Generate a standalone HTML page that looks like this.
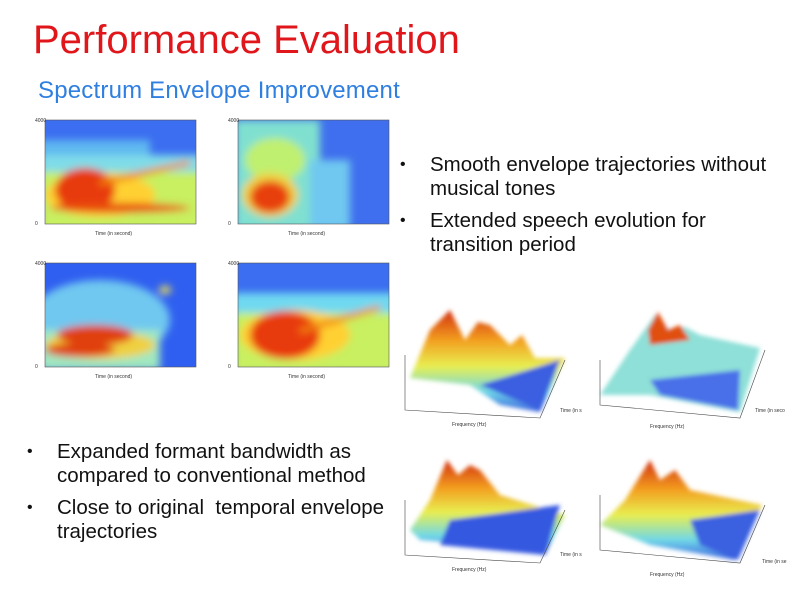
<!DOCTYPE html>
<html><head><meta charset="utf-8"><style>
body{margin:0;width:800px;height:599px;background:#fff;position:relative;overflow:hidden;font-family:"Liberation Sans",sans-serif}
.t{position:absolute;left:33px;top:18px;font-size:40px;color:#e0161b}
.s{position:absolute;left:38px;top:77px;font-size:24px;color:#2f7fe0;letter-spacing:.2px}
.b{position:absolute;font-size:20.5px;color:#111;line-height:24px;white-space:nowrap}
.b div{position:relative;padding-left:30px;margin-bottom:8px}
.b div:before{content:"•";position:absolute;left:0;font-size:16px}
svg{position:absolute;left:0;top:0}
.ax{font-size:5px;fill:#333}
</style></head><body>
<div class="t">Performance Evaluation</div>
<div class="s">Spectrum Envelope Improvement</div>
<div class="b" style="left:400px;top:153px"><div>Smooth envelope trajectories without<br>musical tones</div><div>Extended speech evolution for<br>transition period</div></div>
<div class="b" style="left:27px;top:440px"><div>Expanded formant bandwidth as<br>compared to conventional method</div><div>Close to original&nbsp; temporal envelope<br>trajectories</div></div>
<svg width="800" height="599">
<defs>
<filter id="bl" x="-20%" y="-20%" width="140%" height="140%"><feGaussianBlur stdDeviation="4"/></filter>
<filter id="bl2"><feGaussianBlur stdDeviation="2"/></filter>
<clipPath id="c1"><rect x="45" y="120" width="151" height="104"/></clipPath>
<clipPath id="c2"><rect x="238" y="120" width="151" height="104"/></clipPath>
<clipPath id="c3"><rect x="45" y="263" width="151" height="104"/></clipPath>
<clipPath id="c4"><rect x="238" y="263" width="151" height="104"/></clipPath>
<linearGradient id="g3" x1="0" y1="0" x2="0" y2="1"><stop offset="0" stop-color="#d23010"/><stop offset=".3" stop-color="#f3a020"/><stop offset=".55" stop-color="#e8ee50"/><stop offset=".8" stop-color="#70d8e8"/><stop offset="1" stop-color="#3a60e0"/></linearGradient>
</defs>
<g clip-path="url(#c1)">
<rect x="45" y="120" width="151" height="104" fill="#3b6ef0"/>
<g filter="url(#bl)">
<rect x="40" y="140" width="110" height="30" fill="#5fb8f0"/>
<rect x="40" y="155" width="165" height="75" fill="#7fdce8"/>
<rect x="40" y="172" width="165" height="60" fill="#c8f060"/>
<ellipse cx="100" cy="195" rx="55" ry="22" fill="#ffd030"/>
<ellipse cx="85" cy="190" rx="30" ry="22" fill="#e83a10"/>
<ellipse cx="120" cy="208" rx="70" ry="5" fill="#e85010"/>
<path d="M100 180 L190 160 L190 165 L100 186Z" fill="#f08010"/>
</g></g>
<g clip-path="url(#c2)">
<rect x="238" y="120" width="151" height="104" fill="#3f6fee"/>
<g filter="url(#bl)">
<rect x="235" y="120" width="85" height="110" fill="#80e0d0"/>
<rect x="310" y="160" width="40" height="70" fill="#70c8f0"/>
<ellipse cx="275" cy="160" rx="30" ry="22" fill="#c0f070"/>
<ellipse cx="270" cy="195" rx="28" ry="22" fill="#f0d040"/>
<ellipse cx="270" cy="197" rx="20" ry="16" fill="#e84010"/>
</g></g>
<g clip-path="url(#c3)">
<rect x="45" y="263" width="151" height="104" fill="#2f5ff0"/>
<g filter="url(#bl)">
<ellipse cx="100" cy="320" rx="70" ry="40" fill="#70c8f0"/>
<rect x="40" y="330" width="120" height="40" fill="#a0e8c0"/>
<ellipse cx="100" cy="345" rx="55" ry="14" fill="#f0d040"/>
<ellipse cx="95" cy="335" rx="38" ry="10" fill="#e04010"/>
<ellipse cx="80" cy="350" rx="35" ry="7" fill="#e04010"/>
<ellipse cx="165" cy="290" rx="6" ry="4" fill="#f0e050"/>
</g></g>
<g clip-path="url(#c4)">
<rect x="238" y="263" width="151" height="104" fill="#3b6ef0"/>
<g filter="url(#bl)">
<rect x="233" y="293" width="165" height="80" fill="#6fd9f0"/>
<rect x="233" y="313" width="165" height="60" fill="#c8f060"/>
<ellipse cx="295" cy="335" rx="55" ry="25" fill="#ffd030"/>
<ellipse cx="285" cy="335" rx="35" ry="24" fill="#e83a10"/>
<path d="M300 328 L380 305 L380 310 L300 334Z" fill="#f08010"/>
</g></g>
<g fill="none" stroke="#555" stroke-width=".6">
<rect x="45" y="120" width="151" height="104"/><rect x="238" y="120" width="151" height="104"/>
<rect x="45" y="263" width="151" height="104"/><rect x="238" y="263" width="151" height="104"/>
</g>
<g class="ax">
<text x="35" y="122">4000</text><text x="35" y="225">0</text><text x="228" y="122">4000</text><text x="228" y="225">0</text>
<text x="35" y="265">4000</text><text x="35" y="368">0</text><text x="228" y="265">4000</text><text x="228" y="368">0</text>
<text x="95" y="235">Time (in second)</text><text x="288" y="235">Time (in second)</text>
<text x="95" y="378">Time (in second)</text><text x="288" y="378">Time (in second)</text>
</g>
<g filter="url(#bl2)">
<path d="M410 378 L430 330 L450 310 L465 340 L478 322 L490 325 L510 345 L522 335 L535 358 L565 358 L540 412 L500 405 L470 385Z" fill="url(#g3)"/>
<path d="M480 385 L560 360 L540 410Z" fill="#3a5fe0"/>
<path d="M600 395 L630 350 L655 315 L670 330 L685 327 L700 335 L760 348 L740 412 L650 395Z" fill="#8fe0d8"/>
<path d="M648 330 L658 312 L668 330 L680 325 L690 340 L650 345Z" fill="#e05010"/>
<path d="M650 380 L740 370 L738 410 L660 395Z" fill="#4a70e8"/>
<path d="M410 530 L430 500 L447 460 L458 475 L470 465 L480 470 L500 495 L565 515 L545 555 L480 545 L420 540Z" fill="url(#g3)"/>
<path d="M450 520 L560 505 L545 555 L440 545Z" fill="#3558e0"/>
<path d="M600 525 L625 500 L650 460 L660 480 L675 470 L690 490 L762 505 L735 560 L650 545Z" fill="url(#g3)"/>
<path d="M690 520 L760 510 L738 560 L700 545Z" fill="#3a60e0"/>
</g>
<g stroke="#444" stroke-width=".6" fill="none">
<path d="M405 355 V410 L540 418 L565 360"/><path d="M600 360 V405 L740 418 L765 350"/>
<path d="M405 500 V555 L540 563 L565 510"/><path d="M600 495 V550 L740 563 L765 505"/>
</g>
<g class="ax">
<text x="452" y="426">Frequency (Hz)</text><text x="650" y="428">Frequency (Hz)</text>
<text x="452" y="571">Frequency (Hz)</text><text x="650" y="576">Frequency (Hz)</text>
<text x="560" y="412">Time (in s</text><text x="755" y="412">Time (in seco</text>
<text x="560" y="556">Time (in s</text><text x="762" y="563">Time (in se</text>
</g>
</svg>
</body></html>
